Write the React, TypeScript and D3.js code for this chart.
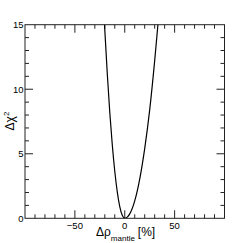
import * as d3 from 'd3'

// delta rho mantle [%] and delta chi2
const dRho = [-22, -20, -17.5, -15, -12.5, -10, -7.5, -5, -2.5, 0, 2.5, 5, 10, 15, 20, 25, 30, 35]
const dChi2 = [17.7, 14.6, 11.2, 8.2, 5.7, 3.65, 2.05, 0.91, 0.23, 0, 0.09, 0.34, 1.35, 3.04, 5.4, 8.4, 12.2, 16.5]

const xMajor = [-50, 0, 50]
const yMajor = [0, 5, 10, 15]

const font = 'Liberation Sans, Arial, sans-serif'

export default function App() {
    const x = d3.scaleLinear().domain([-100, 100]).range([25, 224.5])
    const y = d3.scaleLinear().domain([0, 15]).range([218.3, 24.7])

    const pts = dRho.map((d, i) => [d, dChi2[i]] as [number, number])
    const line = d3
        .line<[number, number]>()
        .x((d) => x(d[0]))
        .y((d) => y(d[1]))
        .curve(d3.curveMonotoneX)

    const xMinor = d3.range(-90, 100, 10)
    const yMinor = d3.range(1, 15, 1)
    const [x0, x1] = x.range()
    const [y0, y1] = y.range()

    return (
        <svg
            width={249}
            height={243}
            style={{ position: 'absolute', left: 0, top: 0, background: '#fff' }}
        >
            <defs>
                <clipPath id="plot">
                    <rect x={x0} y={y1} width={x1 - x0} height={y0 - y1} />
                </clipPath>
            </defs>

            {/* ticks, all four sides */}
            <g stroke="#222" strokeWidth={1}>
                {xMinor.map((v) => {
                    const len = v % 50 === 0 ? 8 : 4
                    return (
                        <g key={'x' + v}>
                            <line x1={x(v)} x2={x(v)} y1={y0} y2={y0 - len} />
                            <line x1={x(v)} x2={x(v)} y1={y1} y2={y1 + len} />
                        </g>
                    )
                })}
                {yMinor.map((v) => {
                    const len = v % 5 === 0 ? 8 : 4
                    return (
                        <g key={'y' + v}>
                            <line x1={x0} x2={x0 + len} y1={y(v)} y2={y(v)} />
                            <line x1={x1} x2={x1 - len} y1={y(v)} y2={y(v)} />
                        </g>
                    )
                })}
            </g>

            <path
                d={line(pts) ?? ''}
                fill="none"
                stroke="#000"
                strokeWidth={1.2}
                clipPath="url(#plot)"
            />

            <rect
                x={x0}
                y={y1}
                width={x1 - x0}
                height={y0 - y1}
                fill="none"
                stroke="#222"
                strokeWidth={1}
            />

            {/* tick labels */}
            <g fontFamily={font} fontSize={9.5} fill="#000">
                {xMajor.map((v) => (
                    <text key={v} x={x(v)} y={229} textAnchor="middle">
                        {v < 0 ? '\u2212' + Math.abs(v) : v}
                    </text>
                ))}
                {yMajor.map((v) => (
                    <text key={v} x={23.5} y={y(v) + 3.5} textAnchor="end">
                        {v}
                    </text>
                ))}
            </g>

            {/* axis titles */}
            <text x={96} y={236} fontFamily={font} fontSize={12} fill="#000">
                Δρ
                <tspan fontSize={8} dy={5}>mantle</tspan>
                <tspan dy={-5} dx={3}>[%]</tspan>
            </text>
            <text
                transform="translate(13.5,121) rotate(-90)"
                textAnchor="middle"
                fontFamily={font}
                fontSize={12}
                fill="#000"
            >
                Δχ
                <tspan fontSize={8} dy={-5}>2</tspan>
            </text>
        </svg>
    )
}
